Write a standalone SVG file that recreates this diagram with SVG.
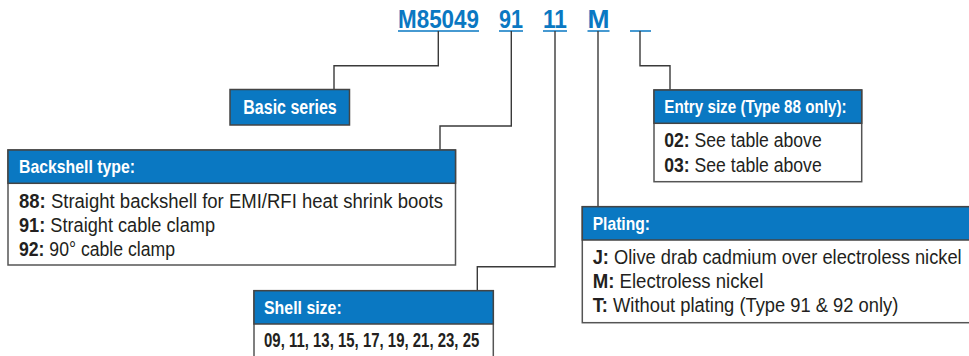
<svg xmlns="http://www.w3.org/2000/svg" width="969" height="356" viewBox="0 0 969 356">
<style>
.code{font-family:"Liberation Sans Narrow","Liberation Sans",Arial,sans-serif;font-weight:bold;font-size:26.5px;fill:#0a78c2}
.ul{stroke:#0a78c2;stroke-width:1.5;fill:none}
.conn{stroke:#3a3a3a;stroke-width:1.4;fill:none}
.hdr{fill:#0a78c2;stroke:#444;stroke-width:1.5}
.body{fill:#fff;stroke:#555;stroke-width:1.5}
.ht{font-family:"Liberation Sans Narrow","Liberation Sans",Arial,sans-serif;font-weight:bold;font-size:18.5px;fill:#fff}
.bt{font-family:"Liberation Sans Narrow","Liberation Sans",Arial,sans-serif;font-size:19.5px;fill:#231f20}
.b{font-weight:bold}
</style>
<rect width="969" height="356" fill="#fff"/>
<g id="code">
<text class="code" x="398" y="28" textLength="81" lengthAdjust="spacingAndGlyphs">M85049</text>
<text class="code" x="499" y="28" textLength="24" lengthAdjust="spacingAndGlyphs">91</text>
<text class="code" x="543" y="28" textLength="24" lengthAdjust="spacingAndGlyphs">11</text>
<text class="code" x="587.5" y="28" textLength="22" lengthAdjust="spacingAndGlyphs">M</text>
<path class="ul" d="M398,31H479M499,31H523M543,31H567M587.5,31H609.5M630,31H651"/>
</g>
<g id="connectors">
<path class="conn" d="M438.3,31V65.7H334V89.5"/>
<path class="conn" d="M511.3,31V126H440V150"/>
<path class="conn" d="M555,31V266.7H477.3V290.7"/>
<path class="conn" d="M598,31V206.7"/>
<path class="conn" d="M640,31V65.7H670V90"/>
</g>
<g id="basic-series">
<rect class="hdr" x="230" y="89.5" width="119.5" height="35.5"/>
<text class="ht" x="243.3" y="114" textLength="93.4" lengthAdjust="spacingAndGlyphs" style="font-size:19.5px">Basic series</text>
</g>
<g id="backshell-type">
<rect class="body" x="8" y="150" width="447.5" height="115"/>
<rect class="hdr" x="8" y="150" width="447.5" height="33.3"/>
<text class="ht" x="19" y="173.3" textLength="116" lengthAdjust="spacingAndGlyphs">Backshell type:</text>
<text class="bt" x="19" y="208.3" textLength="424" lengthAdjust="spacingAndGlyphs"><tspan class="b">88:</tspan> Straight backshell for EMI/RFI heat shrink boots</text>
<text class="bt" x="19" y="232" textLength="196" lengthAdjust="spacingAndGlyphs"><tspan class="b">91:</tspan> Straight cable clamp</text>
<text class="bt" x="19" y="256" textLength="156" lengthAdjust="spacingAndGlyphs"><tspan class="b">92:</tspan> 90° cable clamp</text>
</g>
<g id="entry-size">
<rect class="body" x="654" y="90" width="207.7" height="91.7"/>
<rect class="hdr" x="654" y="90" width="207.7" height="33.3"/>
<text class="ht" x="664.3" y="113.3" textLength="182.4" lengthAdjust="spacingAndGlyphs">Entry size (Type 88 only):</text>
<text class="bt" x="664.3" y="147.3" textLength="157.4" lengthAdjust="spacingAndGlyphs"><tspan class="b">02:</tspan> See table above</text>
<text class="bt" x="664.3" y="171.7" textLength="157.4" lengthAdjust="spacingAndGlyphs"><tspan class="b">03:</tspan> See table above</text>
</g>
<g id="plating">
<rect class="body" x="582.3" y="206.7" width="400" height="116"/>
<rect class="hdr" x="582.3" y="206.7" width="400" height="33.3"/>
<text class="ht" x="592.7" y="230.2" textLength="57.3" lengthAdjust="spacingAndGlyphs">Plating:</text>
<text class="bt" x="592.7" y="264" textLength="369" lengthAdjust="spacingAndGlyphs"><tspan class="b">J:</tspan> Olive drab cadmium over electroless nickel</text>
<text class="bt" x="592.7" y="288" textLength="170.6" lengthAdjust="spacingAndGlyphs"><tspan class="b">M:</tspan> Electroless nickel</text>
<text class="bt" x="592.7" y="312" textLength="305.6" lengthAdjust="spacingAndGlyphs"><tspan class="b">T:</tspan> Without plating (Type 91 &amp; 92 only)</text>
</g>
<g id="shell-size">
<rect class="body" x="254" y="290.7" width="239.3" height="80"/>
<rect class="hdr" x="254" y="290.7" width="239.3" height="33.3"/>
<text class="ht" x="264" y="314" textLength="77.7" lengthAdjust="spacingAndGlyphs">Shell size:</text>
<text class="bt b" x="264" y="347.3" textLength="215.3" lengthAdjust="spacingAndGlyphs">09, 11, 13, 15, 17, 19, 21, 23, 25</text>
</g>
</svg>
